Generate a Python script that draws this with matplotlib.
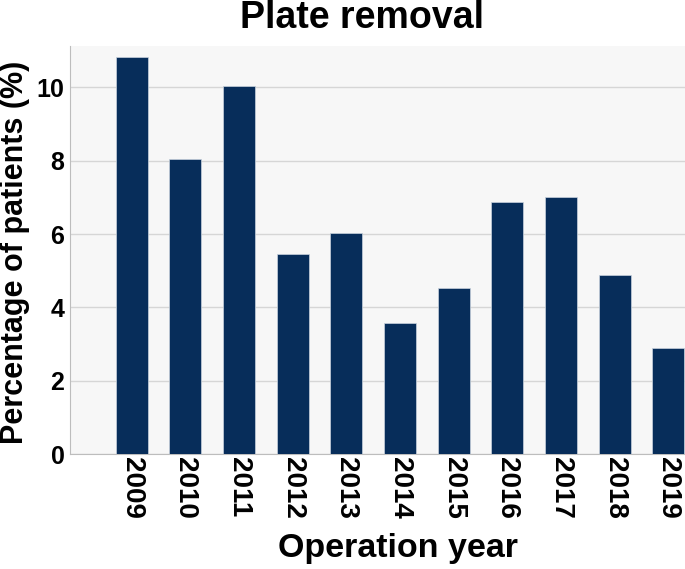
import matplotlib
matplotlib.use("Agg")
import matplotlib.pyplot as plt

years = ["2009", "2010", "2011", "2012", "2013", "2014", "2015", "2016", "2017", "2018", "2019"]
percent = [10.82, 8.05, 10.04, 5.45, 6.04, 3.56, 4.52, 6.88, 7.02, 4.89, 2.89]

plt.rcParams["font.family"] = ["Liberation Sans", "DejaVu Sans"]
plt.rcParams["font.weight"] = "bold"

W, H = 685, 569
fig = plt.figure(figsize=(W / 100, H / 100), dpi=100)
ax = fig.add_axes([70 / W, 1 - 454 / H, 1 - 70 / W, (454 - 46) / H])
ax.set_facecolor("#f7f7f7")
x = list(range(len(years)))
ax.bar(x, percent, width=0.6, color="#072d5a", edgecolor="#c9d3de", linewidth=0.5, zorder=3)
ax.set_xlim(-1.15, 10.31)
ax.set_ylim(0, 11.13)
ax.set_yticks([0, 2, 4, 6, 8, 10])
ax.yaxis.grid(True, color="#d6d6d6", linewidth=1, zorder=0)
ax.set_xticks(x)
ax.set_xticklabels(years, rotation=270, fontsize=20, fontweight="bold")
ax.tick_params(axis="y", labelsize=18, length=0, pad=4)
ax.tick_params(axis="x", length=0, pad=2)
for lbl in ax.get_yticklabels():
    lbl.set_fontweight("bold")
for s in ["top", "right"]:
    ax.spines[s].set_visible(False)
ax.spines["left"].set_color("#bdbdbd")
ax.spines["bottom"].set_color("#bdbdbd")
fig.text(15 / W, 1 - 252 / H, "Percentage of patients (%)", rotation=90, ha="center", va="center",
         fontsize=22, fontweight="bold")
fig.text(398 / W, 1 - 549 / H, "Operation year", ha="center", va="center", fontsize=24.5, fontweight="bold")
fig.text(362 / W, 1 - 18 / H, "Plate removal", ha="center", va="center", fontsize=27, fontweight="bold")
fig.savefig("out.png", dpi=100)
